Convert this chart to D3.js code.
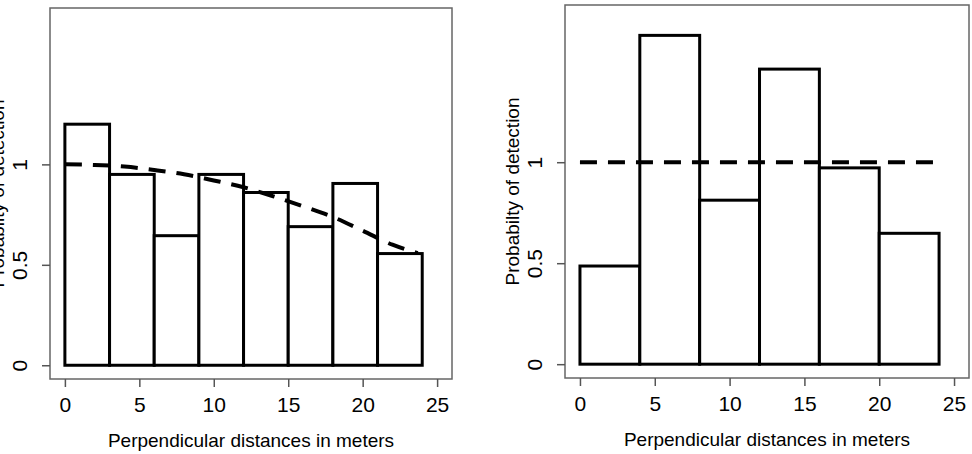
<!DOCTYPE html>
<html>
<head>
<meta charset="utf-8">
<script src="https://cdn.jsdelivr.net/npm/d3@7"></script>
<style>
  body { margin: 0; background: #fff; }
  svg { display: block; font-family: "Liberation Sans", Arial, sans-serif; }
</style>
</head>
<body>
<svg id="chart" width="972" height="454"></svg>
<script>
// left panel: histogram with bins of 3 m + fitted detection curve
const leftBreaks = [0, 3, 6, 9, 12, 15, 18, 21, 24];
const leftHeights = [1.20, 0.95, 0.645, 0.95, 0.86, 0.69, 0.905, 0.556];
const leftCurveX = [0, 2, 4, 6, 8, 10, 12, 14, 16, 18, 20, 22, 23.7];
const leftCurveY = [1.0, 0.997, 0.989, 0.972, 0.951, 0.92, 0.886, 0.841, 0.791, 0.738, 0.67, 0.6, 0.558];

// right panel: histogram with bins of 4 m + flat line at 1
const rightBreaks = [0, 4, 8, 12, 16, 20, 24];
const rightHeights = [0.486, 1.628, 0.812, 1.461, 0.972, 0.648];
const rightLineX = [0, 24];
const rightLineY = [1, 1];

const xTicks = [0, 5, 10, 15, 20, 25];
const yTicks = [0, 0.5, 1];
const yTickLabels = ["0", "0.5", "1"];
const xTitle = "Perpendicular distances in meters";
const yTitle = "Probabilty of detection";

const xlim = [0, 25], ylim = [0, 1.71];

const svg = d3.select("#chart");

function drawPanel(p, breaks, heights, lineX, lineY) {
  // R style: 4% padding on each side of the limits
  const padX = (xlim[1] - xlim[0]) * 0.04, padY = (ylim[1] - ylim[0]) * 0.04;
  const x = d3.scaleLinear().domain([xlim[0] - padX, xlim[1] + padX]).range([p.left, p.right]);
  const y = d3.scaleLinear().domain([ylim[0] - padY, ylim[1] + padY]).range([p.bottom, p.top]);

  const g = svg.append("g");

  const bins = heights.map((h, i) => ({ x0: breaks[i], x1: breaks[i + 1], h }));
  g.selectAll("rect.bar")
    .data(bins)
    .join("rect")
      .attr("class", "bar")
      .attr("x", d => x(d.x0))
      .attr("y", d => y(d.h))
      .attr("width", d => x(d.x1) - x(d.x0))
      .attr("height", d => y(0) - y(d.h))
      .attr("fill", "#fff")
      .attr("stroke", "#000")
      .attr("stroke-width", 3);

  const line = d3.line().x(d => x(d[0])).y(d => y(d[1])).curve(d3.curveMonotoneX);
  g.append("path")
    .datum(lineX.map((v, i) => [v, lineY[i]]))
    .attr("d", line)
    .attr("fill", "none")
    .attr("stroke", "#000")
    .attr("stroke-width", 4)
    .attr("stroke-dasharray", "17,11");

  // box
  g.append("rect")
    .attr("x", p.left).attr("y", p.top)
    .attr("width", p.right - p.left).attr("height", p.bottom - p.top)
    .attr("fill", "none")
    .attr("stroke", "#666")
    .attr("stroke-width", 1.5);

  // x axis
  const xa = g.append("g")
    .attr("transform", `translate(0,${p.bottom})`)
    .call(d3.axisBottom(x).tickValues(xTicks).tickSize(8).tickSizeOuter(0));
  xa.select(".domain").remove();
  xa.selectAll("line").attr("stroke", "#555").attr("stroke-width", 1.5);
  xa.selectAll("text")
    .attr("y", 33).attr("dy", 0)
    .attr("fill", "#000")
    .style("font-size", "21px");

  // y axis, labels parallel to the axis
  const ya = g.append("g")
    .attr("transform", `translate(${p.left},0)`)
    .call(d3.axisLeft(y).tickValues(yTicks).tickFormat((d, i) => yTickLabels[i]).tickSize(8).tickSizeOuter(0));
  ya.select(".domain").remove();
  ya.selectAll("line").attr("stroke", "#555").attr("stroke-width", 1.5);
  ya.selectAll("text")
    .attr("transform", "rotate(-90)")
    .attr("x", 0).attr("y", -23).attr("dy", 0)
    .attr("text-anchor", "middle")
    .attr("fill", "#000")
    .style("font-size", "21px");

  // axis titles
  g.append("text")
    .attr("x", (p.left + p.right) / 2)
    .attr("y", p.bottom + 68)
    .attr("text-anchor", "middle")
    .style("font-size", "19px")
    .text(xTitle);

  g.append("text")
    .attr("transform", `translate(${p.left - 46},${(p.top + p.bottom) / 2}) rotate(-90)`)
    .attr("text-anchor", "middle")
    .style("font-size", "19px")
    .text(yTitle);
}

drawPanel({ left: 50, right: 452, top: 8, bottom: 379 }, leftBreaks, leftHeights, leftCurveX, leftCurveY);
drawPanel({ left: 565, right: 969, top: 5, bottom: 378 }, rightBreaks, rightHeights, rightLineX, rightLineY);
</script>
</body>
</html>
